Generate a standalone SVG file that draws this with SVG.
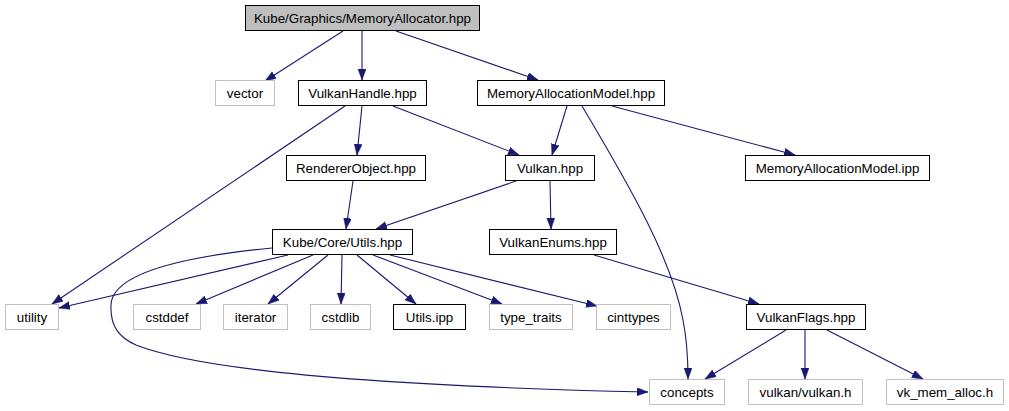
<svg xmlns="http://www.w3.org/2000/svg" width="1009" height="411" viewBox="0 0 1009 411">
<style>
.n rect{fill:#fff;stroke:#000;stroke-width:1}
.n.ext rect{stroke:#bfbfbf}
.n.root rect{fill:#bfbfbf}
.n text{font-family:"Liberation Sans",Arial,sans-serif;font-size:13.33px;text-anchor:middle;fill:#000}
.e path{fill:none;stroke:#191970;stroke-width:1.1;marker-end:url(#ah)}
</style>
<defs>
<marker id="ah" markerUnits="userSpaceOnUse" markerWidth="12" markerHeight="9" refX="11" refY="4" orient="auto">
<path d="M0,0 L11,4 L0,8 z" fill="#191970" stroke="#191970" stroke-width="0.5"/>
</marker>
</defs>
<rect width="1009" height="411" fill="#fff"/>
<g id="edges" class="e">
<path d="M343,31 L265,81"/>
<path d="M362,31 L362,80"/>
<path d="M396,31 L538,80"/>
<path d="M345,106 L52,304"/>
<path d="M362,106 L357,155"/>
<path d="M393,106 L519,155"/>
<path d="M567,106 L552,155"/>
<path d="M582,106 C632,190 672,260 683,320 C688,345 688,365 688,379"/>
<path d="M612,106 L795,155"/>
<path d="M353,181 L346,229"/>
<path d="M516,181 L376,229"/>
<path d="M550,181 L551,229"/>
<path d="M594,255 L759,304"/>
<path d="M288,255 L59,308"/>
<path d="M272,248 C190,256 112,272 111,305 C110,327 120,338 136,345 C220,378 470,388 648,392"/>
<path d="M313,255 L196,304"/>
<path d="M328,255 L268,304"/>
<path d="M342,255 L341,304"/>
<path d="M357,255 L416,304"/>
<path d="M373,255 L502,304"/>
<path d="M390,255 L597,306"/>
<path d="M786,330 L705,379"/>
<path d="M805,330 L805,379"/>
<path d="M827,330 L923,379"/>
</g>
<g id="root" class="n root"><rect x="245.5" y="5.5" width="234" height="25"/><text x="362.5" y="22.5">Kube/Graphics/MemoryAllocator.hpp</text></g>
<g id="vector" class="n ext"><rect x="215.5" y="80.5" width="59" height="25"/><text x="245" y="97.5">vector</text></g>
<g id="vulkanhandle" class="n"><rect x="298.5" y="80.5" width="128" height="25"/><text x="362.5" y="97.5">VulkanHandle.hpp</text></g>
<g id="memallocmodel" class="n"><rect x="477.5" y="80.5" width="187" height="25"/><text x="571" y="97.5">MemoryAllocationModel.hpp</text></g>
<g id="rendererobject" class="n"><rect x="286.5" y="155.5" width="139" height="25"/><text x="356" y="172.5">RendererObject.hpp</text></g>
<g id="vulkan" class="n"><rect x="505.5" y="155.5" width="89" height="25"/><text x="550" y="172.5">Vulkan.hpp</text></g>
<g id="memallocmodelipp" class="n"><rect x="745.5" y="155.5" width="184" height="25"/><text x="837.5" y="172.5">MemoryAllocationModel.ipp</text></g>
<g id="utils" class="n"><rect x="272.5" y="229.5" width="140" height="25"/><text x="342.5" y="246.5">Kube/Core/Utils.hpp</text></g>
<g id="vulkanenums" class="n"><rect x="489.5" y="229.5" width="127" height="25"/><text x="553" y="246.5">VulkanEnums.hpp</text></g>
<g id="utility" class="n ext"><rect x="5.5" y="304.5" width="53" height="25"/><text x="32" y="321.5">utility</text></g>
<g id="cstddef" class="n ext"><rect x="133.5" y="304.5" width="67" height="25"/><text x="167" y="321.5">cstddef</text></g>
<g id="iterator" class="n ext"><rect x="223.5" y="304.5" width="64" height="25"/><text x="255.5" y="321.5">iterator</text></g>
<g id="cstdlib" class="n ext"><rect x="310.5" y="304.5" width="60" height="25"/><text x="340.5" y="321.5">cstdlib</text></g>
<g id="utilsipp" class="n"><rect x="393.5" y="304.5" width="72" height="25"/><text x="429.5" y="321.5">Utils.ipp</text></g>
<g id="type_traits" class="n ext"><rect x="489.5" y="304.5" width="83" height="25"/><text x="531" y="321.5">type_traits</text></g>
<g id="cinttypes" class="n ext"><rect x="596.5" y="304.5" width="74" height="25"/><text x="633.5" y="321.5">cinttypes</text></g>
<g id="vulkanflags" class="n"><rect x="746.5" y="304.5" width="119" height="25"/><text x="806" y="321.5">VulkanFlags.hpp</text></g>
<g id="concepts" class="n ext"><rect x="649.5" y="379.5" width="75" height="25"/><text x="687" y="396.5">concepts</text></g>
<g id="vulkanh" class="n ext"><rect x="748.5" y="379.5" width="114" height="25"/><text x="805.5" y="396.5">vulkan/vulkan.h</text></g>
<g id="vkmemalloc" class="n ext"><rect x="886.5" y="379.5" width="117" height="25"/><text x="945" y="396.5">vk_mem_alloc.h</text></g>
</svg>
